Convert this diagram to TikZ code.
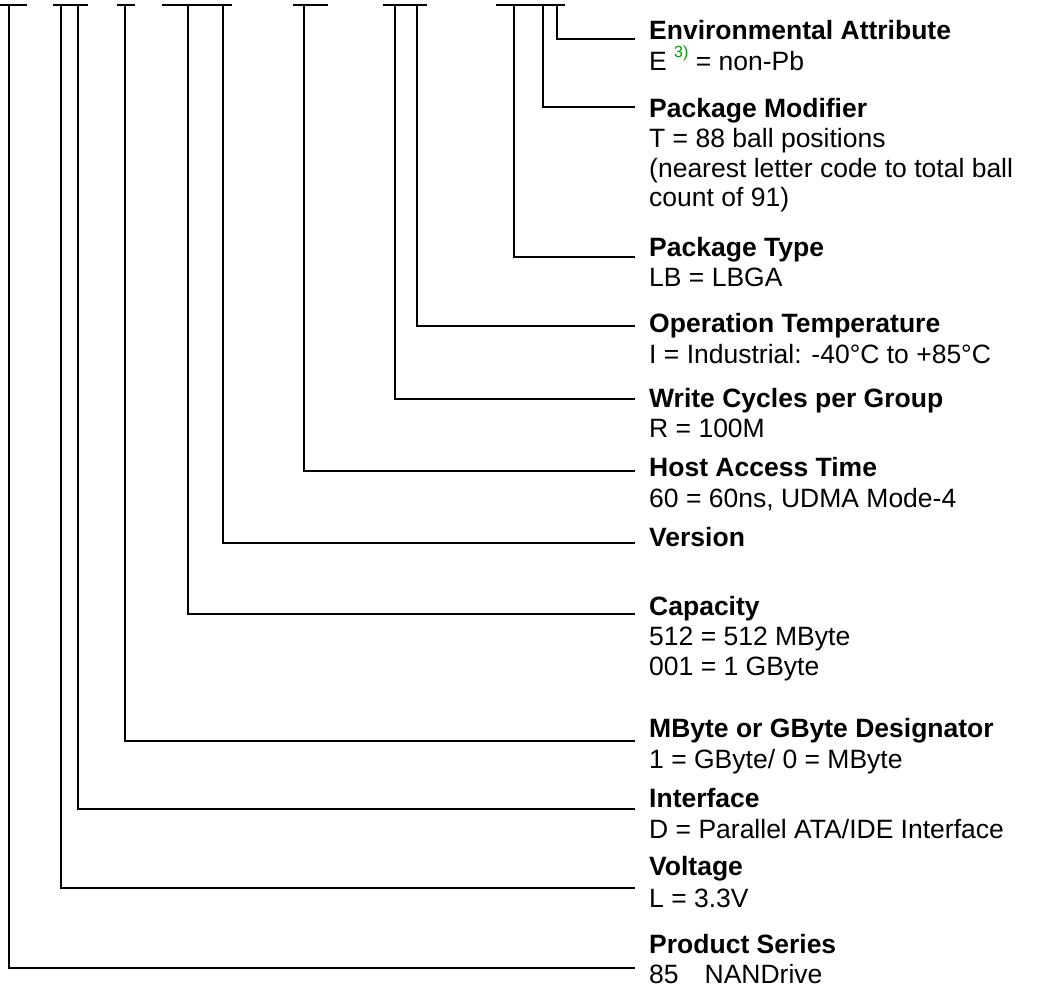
\documentclass[tikz,border=0pt]{standalone}
\usepackage{fontspec}
\setmainfont{Liberation Sans}
\usepackage{xcolor}
\definecolor{supgreen}{RGB}{0,153,0}
\begin{document}
\begin{tikzpicture}[x=1pt,y=-1pt,
  conn/.style={line width=1.2pt,black},
  bar/.style={line width=1.2pt,black},
  title/.style={anchor=base west,inner sep=0pt,font=\fontsize{26.5}{30}\selectfont\bfseries},
  desc/.style={anchor=base west,inner sep=0pt,font=\fontsize{26.5}{30}\selectfont}]
\useasboundingbox (0,0) rectangle (1062,993);

% top bars
\coordinate (b1l) at (0,5);   \coordinate (b1r) at (27,5);
\coordinate (b2l) at (53,5);  \coordinate (b2r) at (88,5);
\coordinate (b3l) at (117,5); \coordinate (b3r) at (135,5);
\coordinate (b4l) at (162,5); \coordinate (b4r) at (232,5);
\coordinate (b5l) at (293,5); \coordinate (b5r) at (328,5);
\coordinate (b6l) at (383,5); \coordinate (b6r) at (427,5);
\coordinate (b7l) at (496,5); \coordinate (b7r) at (565,5);
\foreach \i in {1,...,7} {\draw[bar] (b\i l) -- (b\i r);}

% vertical starts
\coordinate (vProd) at (9,5);
\coordinate (vVolt) at (61,5);
\coordinate (vIntf) at (78,5);
\coordinate (vMByte) at (125,5);
\coordinate (vCap) at (188,5);
\coordinate (vVer) at (223,5);
\coordinate (vHost) at (304,5);
\coordinate (vWrite) at (395,5);
\coordinate (vTemp) at (417,5);
\coordinate (vPType) at (514,5);
\coordinate (vPMod) at (543,5);
\coordinate (vEnv) at (557,5);

% line ends
\coordinate (eEnv) at (635,39);
\coordinate (ePMod) at (635,107);
\coordinate (ePType) at (635,257);
\coordinate (eTemp) at (635,326);
\coordinate (eWrite) at (635,399);
\coordinate (eHost) at (635,471);
\coordinate (eVer) at (635,543);
\coordinate (eCap) at (635,614);
\coordinate (eMByte) at (635,741);
\coordinate (eIntf) at (635,809);
\coordinate (eVolt) at (635,888);
\coordinate (eProd) at (635,968);

\foreach \n in {Env,PMod,PType,Temp,Write,Host,Ver,Cap,MByte,Intf,Volt,Prod}
  {\draw[conn] (v\n) |- (e\n);}

% texts
\node[title] (tEnv) at (649,39) {Environmental Attribute};
\node[desc] (dEnv) at (649,70) {E \raisebox{13pt}{\fontsize{16}{16}\selectfont\color{supgreen}3)} = non-Pb};

\node[title] (tPMod) at (649,117) {Package Modifier};
\node[desc] (dPMod1) at (649,147) {T = 88 ball positions};
\node[desc] (dPMod2) at (649,177) {(nearest letter code to total ball};
\node[desc] (dPMod3) at (649,206) {count of 91)};

\node[title] (tPType) at (649,256) {Package Type};
\node[desc] (dPType) at (649,286) {LB = LBGA};

\node[title] (tTemp) at (649,332) {Operation Temperature};
\node[desc] (dTemp) at (649,363) {I = Industrial: -40°C to +85°C};

\node[title] (tWrite) at (649,407) {Write Cycles per Group};
\node[desc] (dWrite) at (649,437) {R = 100M};

\node[title] (tHost) at (649,476) {Host Access Time};
\node[desc] (dHost) at (649,507) {60 = 60ns, UDMA Mode-4};

\node[title] (tVer) at (649,546) {Version};

\node[title] (tCap) at (649,615) {Capacity};
\node[desc] (dCap1) at (649,645) {512 = 512 MByte};
\node[desc] (dCap2) at (649,675) {001 = 1 GByte};

\node[title] (tMByte) at (649,737) {MByte or GByte Designator};
\node[desc] (dMByte) at (649,768) {1 = GByte/ 0 = MByte};

\node[title] (tIntf) at (649,807) {Interface};
\node[desc] (dIntf) at (649,838) {D = Parallel ATA/IDE Interface};

\node[title] (tVolt) at (649,875) {Voltage};
\node[desc] (dVolt) at (649,907) {L = 3.3V};

\node[title] (tProd) at (649,953) {Product Series};
\node[desc] (dProd) at (649,983) {85\hspace*{26pt}NANDrive};
\end{tikzpicture}
\end{document}
